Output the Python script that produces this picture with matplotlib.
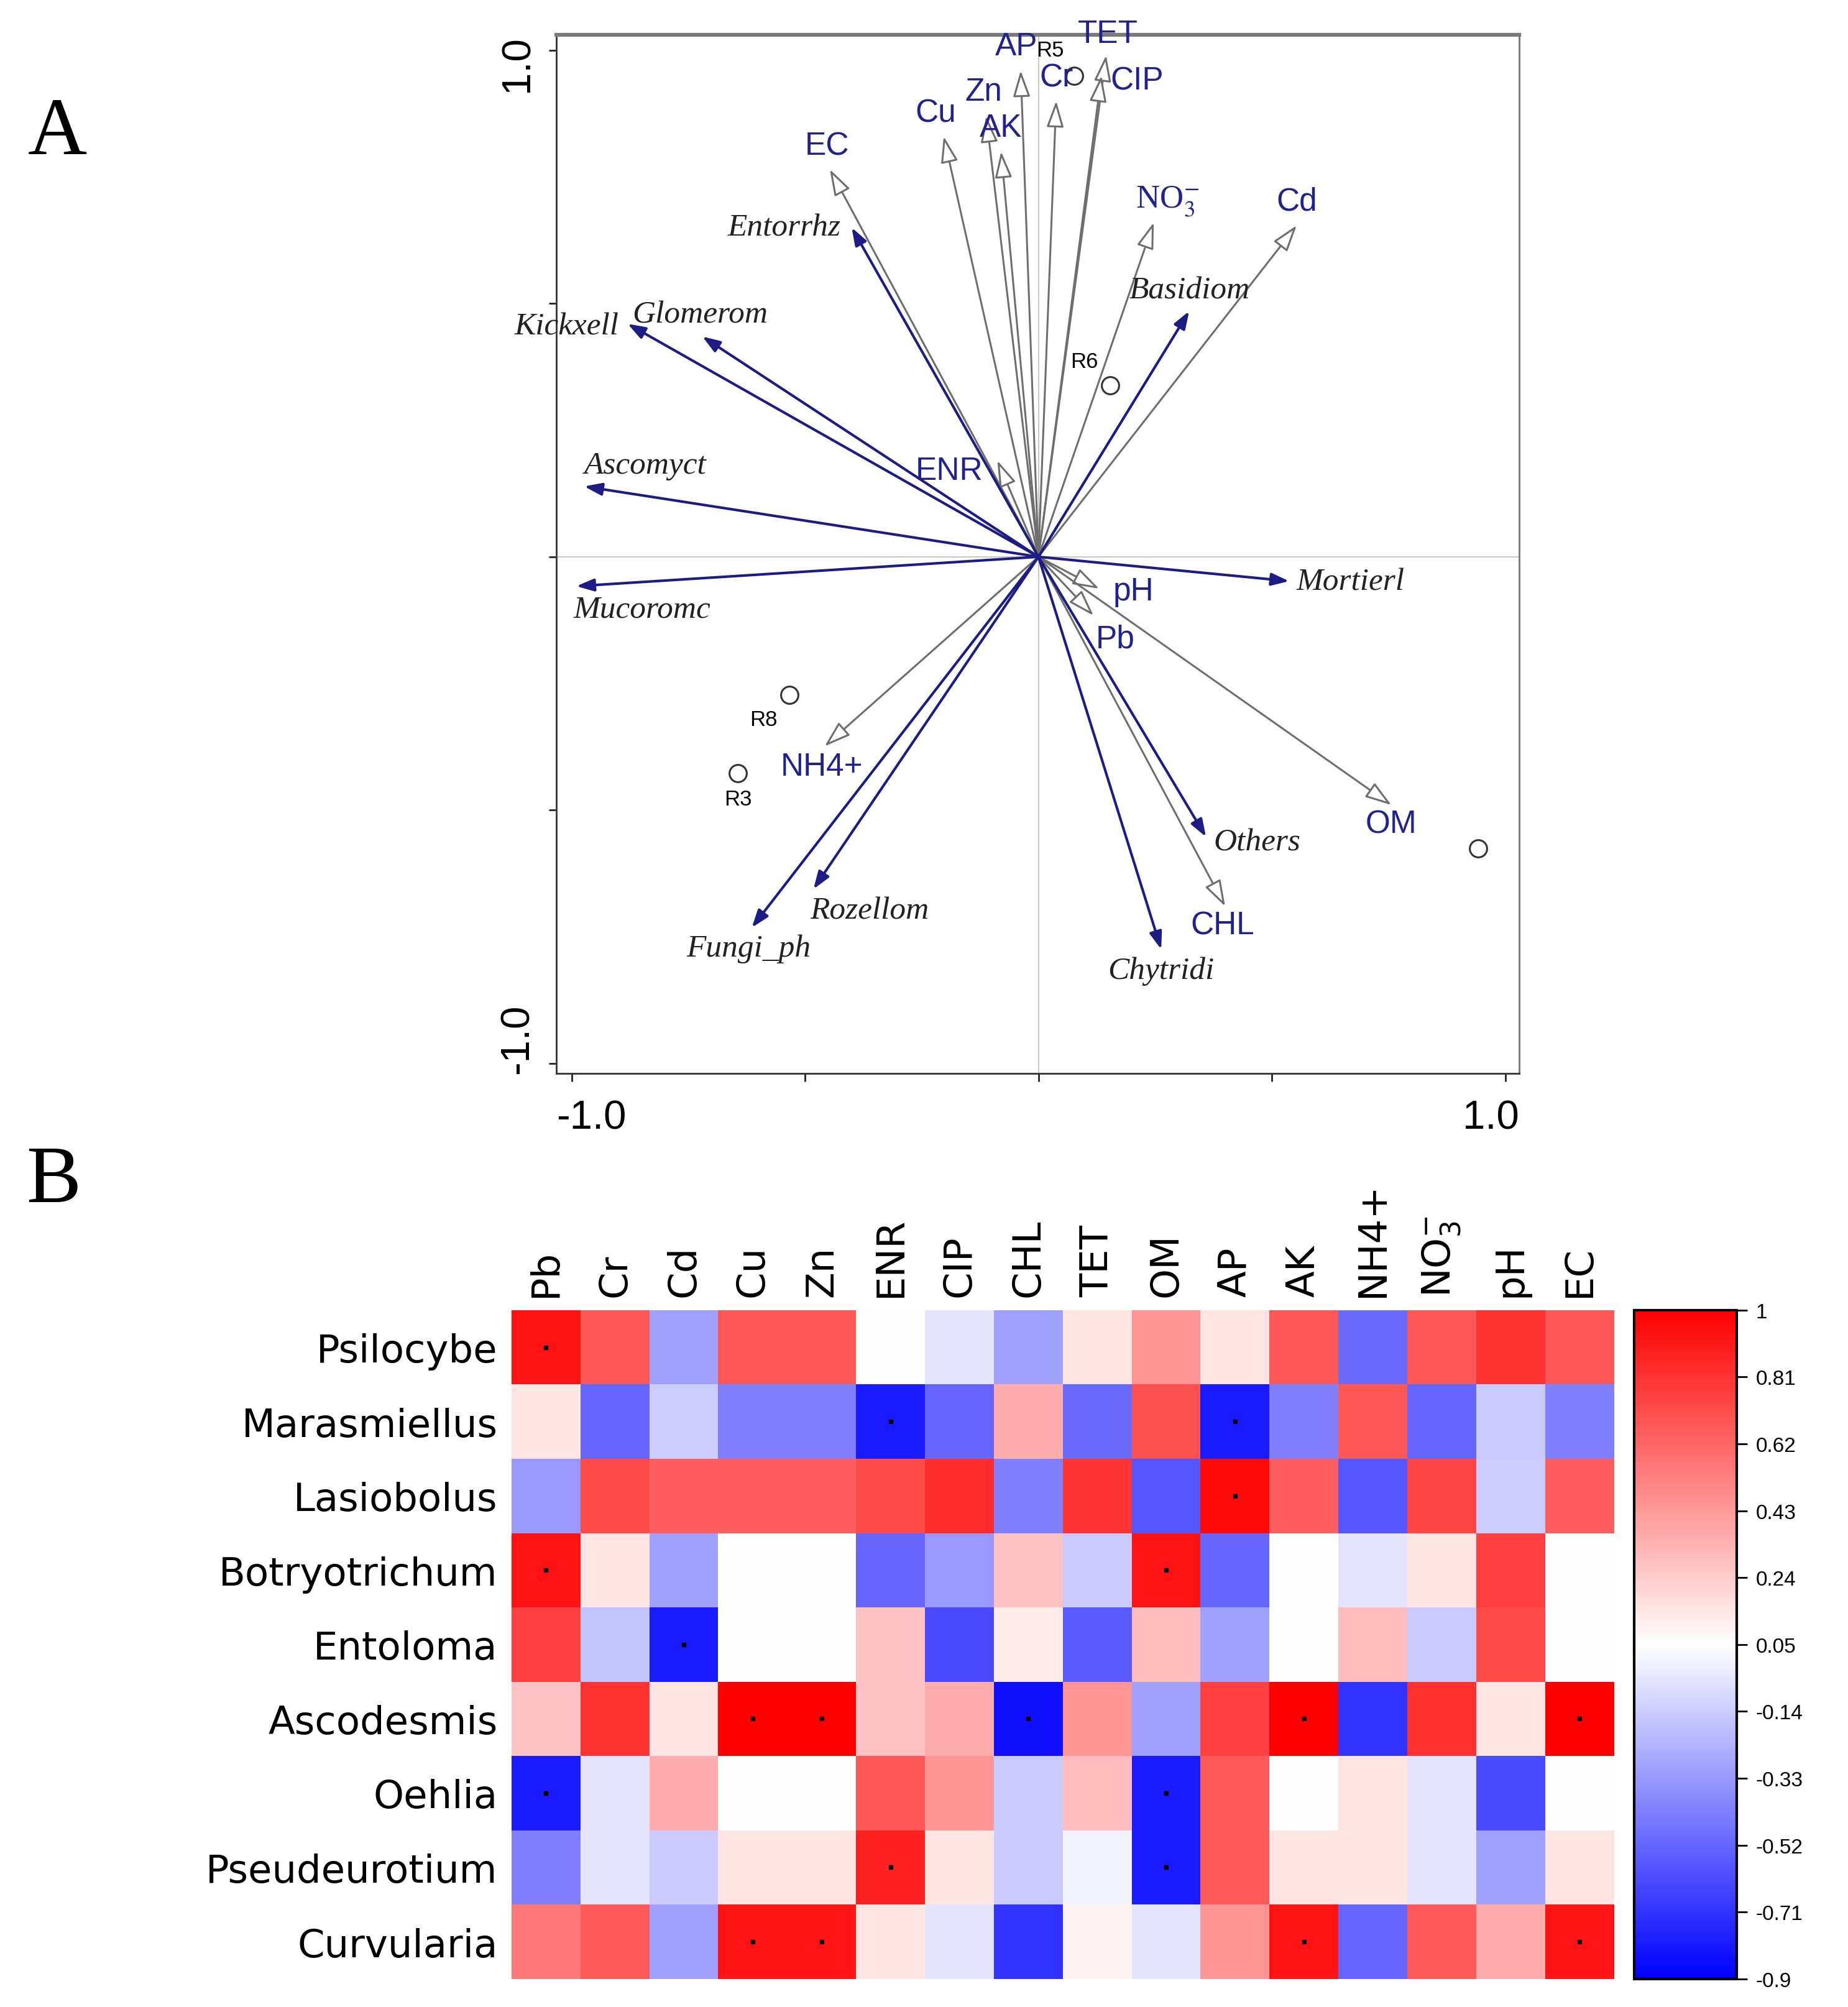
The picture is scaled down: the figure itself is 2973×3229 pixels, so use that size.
import numpy as np
import matplotlib
matplotlib.use("Agg")
import matplotlib.pyplot as plt

# Datos del panel A (RDA): variables ambientales
env_nombres = ["TET", "CIP", "Cr", "AP", "Zn", "AK", "Cu", "EC", r"NO$_3^{-}$", "Cd",
               "ENR", "pH", "Pb", "NH4+", "OM", "CHL"]
env_x = [0.145, 0.135, 0.038, -0.038, -0.112, -0.080, -0.203, -0.447, 0.247, 0.553,
         -0.088, 0.130, 0.118, -0.458, 0.756, 0.400]
env_y = [0.990, 0.950, 0.900, 0.960, 0.870, 0.800, 0.830, 0.765, 0.660, 0.654,
         0.190, -0.063, -0.116, -0.374, -0.490, -0.690]

# Especies (flechas azules)
esp_nombres = ["Entorrhz", "Kickxell", "Glomerom", "Ascomyct", "Basidiom", "Mucoromc",
               "Mortierl", "Others", "Chytridi", "Rozellom", "Fungi_ph"]
esp_x = [-0.400, -0.880, -0.720, -0.973, 0.323, -0.990, 0.537, 0.359, 0.263, -0.482, -0.614]
esp_y = [0.650, 0.460, 0.435, 0.139, 0.485, -0.058, -0.048, -0.553, -0.775, -0.656, -0.732]

# Sitios (circulos)
sitio_nombres = ["R5", "R6", "R8", "R3", ""]
sitio_x = [0.077, 0.153, -0.534, -0.644, 0.942]
sitio_y = [0.950, 0.338, -0.273, -0.427, -0.576]

# Datos del panel B (correlaciones)
generos = ["Psilocybe", "Marasmiellus", "Lasiobolus", "Botryotrichum", "Entoloma",
           "Ascodesmis", "Oehlia", "Pseudeurotium", "Curvularia"]
factores = ["Pb", "Cr", "Cd", "Cu", "Zn", "ENR", "CIP", "CHL", "TET", "OM", "AP", "AK",
            "NH4+", r"NO$_3^{-}$", "pH", "EC"]
correl = np.array([
    [0.93, 0.68, -0.30, 0.68, 0.68, 0.05, -0.05, -0.30, 0.15, 0.45, 0.15, 0.68, -0.50, 0.68, 0.81, 0.68],
    [0.15, -0.52, -0.14, -0.42, -0.42, -0.80, -0.52, 0.36, -0.50, 0.70, -0.80, -0.42, 0.68, -0.52, -0.15, -0.42],
    [-0.33, 0.72, 0.65, 0.65, 0.65, 0.72, 0.83, -0.42, 0.80, -0.58, 0.96, 0.65, -0.58, 0.74, -0.14, 0.65],
    [0.93, 0.15, -0.30, 0.05, 0.05, -0.52, -0.33, 0.28, -0.15, 0.93, -0.52, 0.05, -0.05, 0.15, 0.76, 0.05],
    [0.76, -0.17, -0.80, 0.05, 0.05, 0.28, -0.62, 0.13, -0.56, 0.30, -0.30, 0.05, 0.30, -0.15, 0.72, 0.05],
    [0.28, 0.81, 0.15, 1.00, 1.00, 0.28, 0.36, -0.84, 0.45, -0.30, 0.76, 1.00, -0.71, 0.82, 0.15, 1.00],
    [-0.80, -0.05, 0.36, 0.05, 0.05, 0.68, 0.45, -0.15, 0.30, -0.80, 0.66, 0.05, 0.15, -0.05, -0.62, 0.05],
    [-0.42, -0.05, -0.15, 0.15, 0.15, 0.88, 0.15, -0.15, 0.00, -0.80, 0.66, 0.15, 0.15, -0.05, -0.30, 0.15],
    [0.55, 0.66, -0.30, 0.93, 0.93, 0.15, -0.05, -0.71, 0.10, -0.05, 0.45, 0.93, -0.52, 0.66, 0.36, 0.93],
])
signif = np.array([
    [1, 0, 0, 0, 0, 0, 0, 0, 0, 0, 0, 0, 0, 0, 0, 0],
    [0, 0, 0, 0, 0, 1, 0, 0, 0, 0, 1, 0, 0, 0, 0, 0],
    [0, 0, 0, 0, 0, 0, 0, 0, 0, 0, 1, 0, 0, 0, 0, 0],
    [1, 0, 0, 0, 0, 0, 0, 0, 0, 1, 0, 0, 0, 0, 0, 0],
    [0, 0, 1, 0, 0, 0, 0, 0, 0, 0, 0, 0, 0, 0, 0, 0],
    [0, 0, 0, 1, 1, 0, 0, 1, 0, 0, 0, 1, 0, 0, 0, 1],
    [1, 0, 0, 0, 0, 0, 0, 0, 0, 1, 0, 0, 0, 0, 0, 0],
    [0, 0, 0, 0, 0, 1, 0, 0, 0, 1, 0, 0, 0, 0, 0, 0],
    [0, 0, 0, 1, 1, 0, 0, 0, 0, 0, 0, 1, 0, 0, 0, 1],
])
cbar_ticks = [1, 0.81, 0.62, 0.43, 0.24, 0.05, -0.14, -0.33, -0.52, -0.71, -0.9]

# Desplazamientos de las etiquetas (en puntos)
off_env = [(2, 25), (41, -6), (0, 27), (-5, 28), (-3, 28), (0, 28), (-9, 27), (-3, 27),
           (16, 25), (0, 28), (-56, -12), (40, -3), (25, -27), (-3, -24), (0, -22), (-3, -22)]
off_esp = [(-78, 0), (-71, -3), (-3, 25), (71, 24), (0, 24), (76, -27),
           (71, -1), (59, -6), (0, -25), (65, -25), (-4, -24)]
off_sitio = [(-28, 30), (-30, 28), (-30, -28), (0, -30), (0, 0)]

azul_txt = "#22228c"
azul_flecha = "#1c1c84"
gris = "#6e6e6e"

fig = plt.figure(figsize=(29.73, 32.30), dpi=100)

# ---------------- Panel A ----------------
ax = fig.add_axes([0.3010, 0.4650, 0.5211, 0.5172])
ax.set_xlim(-1.033, 1.03)
ax.set_ylim(-1.02, 1.03)
ax.axhline(0, color="#c8c8c8", lw=1.5, zorder=0)
ax.axvline(0, color="#c8c8c8", lw=1.5, zorder=0)

for nombre, x, y, off in zip(env_nombres, env_x, env_y, off_env):
    ax.annotate("", xy=(x, y), xytext=(0, 0),
                arrowprops=dict(arrowstyle="-|>,head_length=26,head_width=8.5",
                                mutation_scale=1, lw=2.2, ec=gris, fc="white",
                                shrinkA=0, shrinkB=0))
    if nombre.startswith("NO"):
        ax.annotate(nombre, xy=(x, y), xytext=off, textcoords="offset points",
                    ha="center", va="center", fontsize=38, color=azul_txt,
                    math_fontfamily="stix", family="Liberation Serif")
    else:
        ax.annotate(nombre, xy=(x, y), xytext=off, textcoords="offset points",
                    ha="center", va="center", fontsize=37, color=azul_txt,
                    family="Liberation Sans")

for nombre, x, y, off in zip(esp_nombres, esp_x, esp_y, off_esp):
    ax.annotate("", xy=(x, y), xytext=(0, 0),
                arrowprops=dict(arrowstyle="-|>,head_length=17,head_width=6",
                                mutation_scale=1, lw=3.0, ec=azul_flecha, fc=azul_flecha,
                                shrinkA=0, shrinkB=0))
    ax.annotate(nombre, xy=(x, y), xytext=off, textcoords="offset points",
                ha="center", va="center", fontsize=37, style="italic",
                family="Liberation Serif", color="#222222")

ax.plot(sitio_x, sitio_y, "o", ms=20, mfc="none", mec="#333333", mew=2.2)
for nombre, x, y, off in zip(sitio_nombres, sitio_x, sitio_y, off_sitio):
    if nombre:
        ax.annotate(nombre, xy=(x, y), xytext=off, textcoords="offset points",
                    ha="center", va="center", fontsize=25, color="black",
                    family="Liberation Sans")

# Ticks sin etiqueta; los extremos se escriben junto a los bordes del eje
ax.set_xticks([-1, -0.5, 0, 0.5, 1])
ax.set_yticks([-1, -0.5, 0, 0.5, 1])
ax.set_xticklabels([])
ax.set_yticklabels([])
ax.tick_params(direction="out", length=9, width=2, colors="#222222")
ax.text(0.0, -0.043, "-1.0", transform=ax.transAxes, ha="left", va="center",
        fontsize=47, family="Liberation Sans")
ax.text(1.0, -0.043, "1.0", transform=ax.transAxes, ha="right", va="center",
        fontsize=47, family="Liberation Sans")
ax.text(-0.040, 1.0, "1.0", transform=ax.transAxes, ha="center", va="top",
        rotation=90, fontsize=47, family="Liberation Sans")
ax.text(-0.040, 0.0, "-1.0", transform=ax.transAxes, ha="center", va="bottom",
        rotation=90, fontsize=47, family="Liberation Sans")
for lado in ["left", "bottom", "right"]:
    ax.spines[lado].set_linewidth(2)
    ax.spines[lado].set_color("#333333")
ax.spines["right"].set_color("#777777")
ax.spines["top"].set_linewidth(4.5)
ax.spines["top"].set_color("#7a7a7a")

# ---------------- Panel B ----------------
axh = fig.add_axes([0.2768, 0.0140, 0.5966, 0.3331])
malla = axh.pcolormesh(correl, cmap="bwr", vmin=-0.9, vmax=1.0)
axh.set_xlim(0, len(factores))
axh.set_ylim(len(generos), 0)
filas, cols = np.nonzero(signif)
axh.plot(cols + 0.5, filas + 0.5, "s", ms=4, color="black", ls="none")
axh.set_xticks(np.arange(len(factores)) + 0.5)
axh.set_yticks(np.arange(len(generos)) + 0.5)
axh.xaxis.tick_top()
axh.set_xticklabels(factores, rotation=90, fontsize=45, family="DejaVu Sans",
                    math_fontfamily="dejavusans")
axh.set_yticklabels(generos, fontsize=45, family="DejaVu Sans")
axh.tick_params(length=0, pad=16)
for lado in axh.spines.values():
    lado.set_visible(False)

axc = fig.add_axes([0.8844, 0.0140, 0.0554, 0.3331])
cb = fig.colorbar(malla, cax=axc, ticks=cbar_ticks)
cb.ax.set_yticklabels([str(t) for t in cbar_ticks], family="Liberation Sans", fontsize=24)
cb.ax.tick_params(length=12, width=2, pad=10)
cb.outline.set_linewidth(3)

# Letras de los paneles
fig.text(0.031, 0.933, "A", fontsize=95, family="Liberation Serif", ha="center", va="center")
fig.text(0.029, 0.411, "B", fontsize=95, family="Liberation Serif", ha="center", va="center")

fig.savefig("out.png", dpi=100)
